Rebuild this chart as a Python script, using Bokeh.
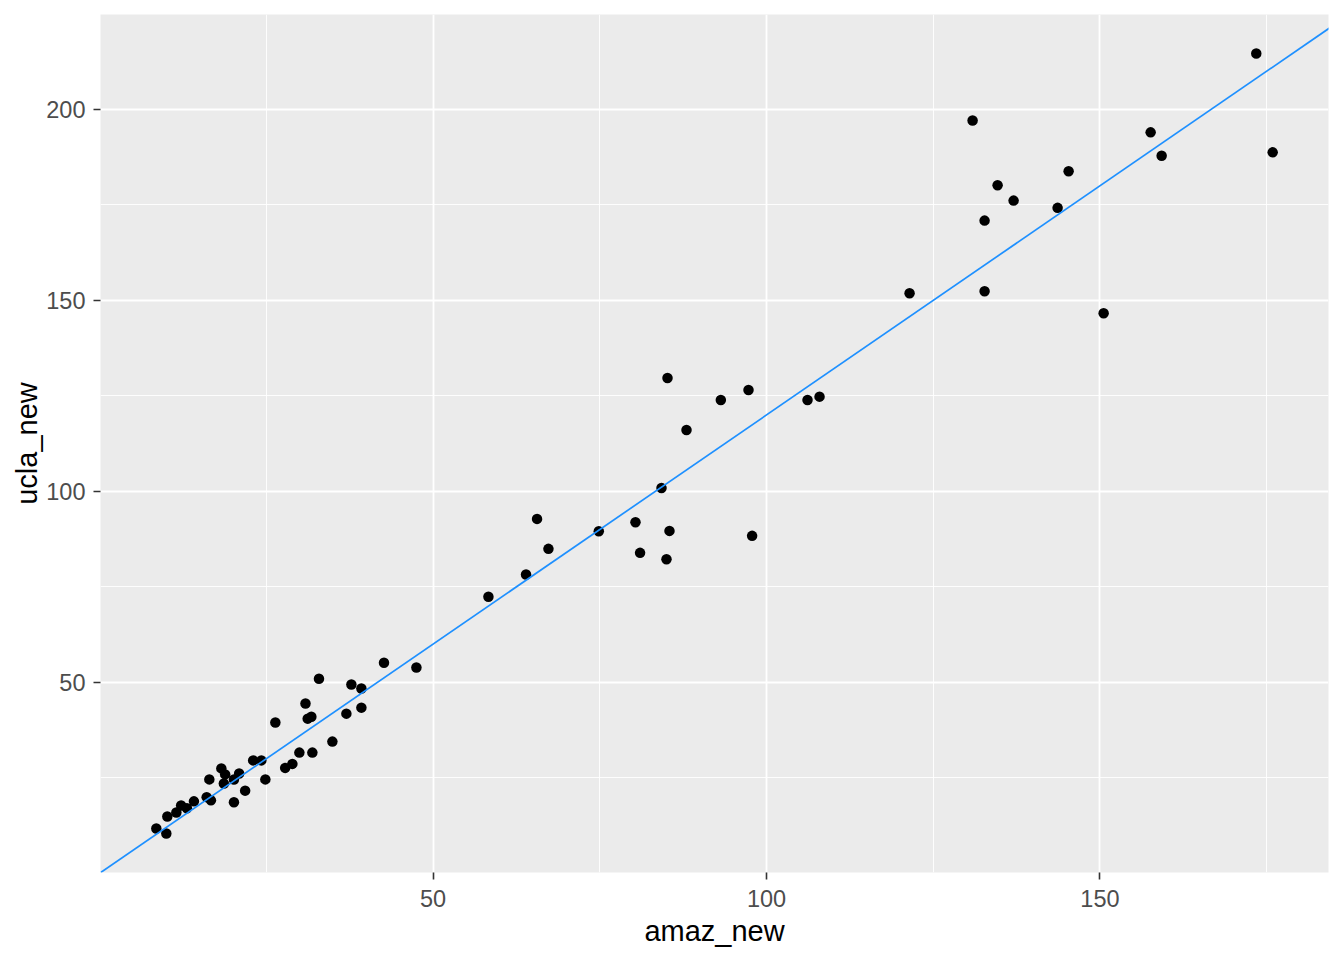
from bokeh.plotting import figure
from bokeh.models import Range1d, FixedTicker, Slope, ColumnDataSource
from bokeh.embed import file_html
from bokeh.resources import INLINE

amaz_new = [42.64, 47.50, 32.89, 37.75, 39.25, 30.87, 37.00, 39.25, 26.35, 31.20,
            31.75, 34.90, 29.95, 31.90, 23.02, 24.25, 18.25, 18.82, 20.92, 27.82,
            28.90, 16.45, 20.14, 24.85, 18.63, 21.82, 14.14, 12.22, 13.09, 16.05,
            16.69, 20.14, 11.50, 10.15, 8.50, 10.00,
            85.15, 93.15, 97.30, 106.15, 107.95, 88.00, 84.25, 65.59, 80.35, 74.85,
            85.45, 97.84, 67.30, 81.04, 85.00, 63.94, 58.30,
            173.44, 130.90, 157.60, 159.25, 175.90, 145.30, 134.65, 137.05, 143.65,
            132.70, 121.45, 132.70, 150.55]
ucla_new = [55.13, 53.87, 50.94, 49.42, 48.38, 44.46, 41.79, 43.36, 39.49, 40.48,
            40.98, 34.47, 31.59, 31.59, 29.55, 29.55, 27.46, 25.89, 26.10, 27.59,
            28.64, 24.58, 24.53, 24.58, 23.48, 21.63, 18.83, 17.73, 17.00, 19.93,
            19.09, 18.57, 15.90, 14.85, 11.72, 10.41,
            129.66, 123.90, 126.52, 123.90, 124.79, 116.06, 100.89, 92.78, 91.92, 89.57,
            89.64, 88.34, 84.94, 83.89, 82.24, 78.24, 72.38,
            214.64, 197.12, 193.99, 187.89, 188.76, 183.79, 180.13, 176.12, 174.22,
            170.89, 151.88, 152.41, 146.65]

line_slope = 1.2
line_intercept = 0.0

x_ticks = [50, 100, 150]
x_minor = [25, 75, 125, 175]
y_ticks = [50, 100, 150, 200]
y_minor = [25, 75, 125, 175]


def expand(vals, f=0.05):
    lo, hi = min(vals), max(vals)
    d = (hi - lo) * f
    return lo - d, hi + d


xr = expand(amaz_new)
yr = expand(ucla_new)

p = figure(width=1336, height=952, output_backend="svg", toolbar_location=None,
           x_range=Range1d(*xr), y_range=Range1d(*yr),
           min_border_left=100, min_border_right=8, min_border_top=14, min_border_bottom=80)

p.background_fill_color = "#EBEBEB"
p.border_fill_color = "white"
p.outline_line_color = None

for ax, ticks, minor in ((p.xaxis[0], x_ticks, x_minor), (p.yaxis[0], y_ticks, y_minor)):
    ax.ticker = FixedTicker(ticks=ticks, minor_ticks=minor)
    ax.axis_line_color = None
    ax.major_tick_line_color = "#333333"
    ax.major_tick_line_width = 1.6
    ax.major_tick_out = 7
    ax.major_tick_in = 0
    ax.minor_tick_line_color = None
    ax.major_label_text_font = "Liberation Sans"
    ax.major_label_text_font_size = "23.5px"
    ax.major_label_text_color = "#4D4D4D"
    ax.axis_label_text_font = "Liberation Sans"
    ax.axis_label_text_font_size = "29px"
    ax.axis_label_text_font_style = "normal"
    ax.axis_label_text_color = "black"

p.xaxis.major_label_standoff = 10
p.yaxis.major_label_standoff = 8
p.xaxis.axis_label_standoff = 5
p.yaxis.axis_label_standoff = 0

p.xaxis.axis_label = "amaz_new"
p.yaxis.axis_label = "ucla_new"
p.yaxis.major_label_orientation = "horizontal"

for g in (p.xgrid[0], p.ygrid[0]):
    g.grid_line_color = "white"
    g.grid_line_width = 1.8
    g.minor_grid_line_color = "white"
    g.minor_grid_line_width = 0.9

src = ColumnDataSource(dict(x=amaz_new, y=ucla_new))
p.scatter("x", "y", source=src, size=10.5, fill_color="black", line_color="black", line_width=0)

p.add_layout(Slope(gradient=line_slope, y_intercept=line_intercept,
                   line_color="#1E90FF", line_width=1.7))

open("out.html", "w").write(file_html(p, INLINE))
